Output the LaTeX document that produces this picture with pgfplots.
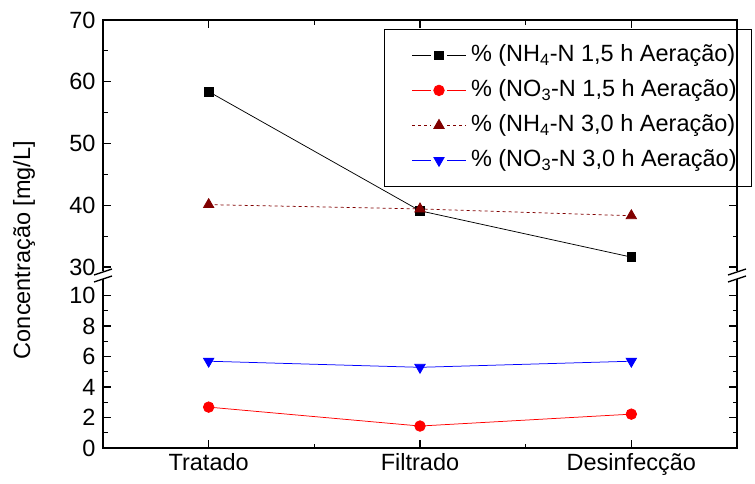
\documentclass[border=0pt]{standalone}
\usepackage{fontspec}
\setmainfont{Liberation Sans}
\usepackage{pgfplots}
\pgfplotsset{compat=1.18}

\definecolor{nhdark}{RGB}{128,0,0}
\newcommand\fs{\fontsize{23.5}{28}\selectfont}

% common frame for both halves of the broken axis
\pgfplotsset{
  halfaxis/.style={
    scale only axis, width=634pt,
    xmin=-0.5, xmax=2.5,
    xtick={0,1,2}, minor xtick={0.5,1.5},
    tick align=inside,
    major tick length=8pt, minor tick length=4.5pt,
    every tick/.style={line width=1.1pt, black},
    axis line style={draw=none},
    clip=false,
    /pgf/number format/assume math mode=true,
    tick label style={font=\fs},
    yticklabel style={xshift=-4pt},
    xticklabel style={yshift=-2pt},
  },
  nh15/.style={black, line width=0.75pt, mark=square*, mark size=4.3pt, mark options={solid}},
  no15/.style={red, line width=0.75pt, mark=*, mark size=5.3pt, mark options={solid}},
  nh30/.style={nhdark, line width=0.75pt, dash pattern=on 3pt off 3pt, mark=triangle*, mark size=6pt, mark options={solid}},
  no30/.style={blue, line width=0.75pt, mark=triangle*, mark size=6pt, mark options={solid, rotate=180}},
}

\begin{document}
\begin{tikzpicture}[font=\fs]
\useasboundingbox (0,0) rectangle (755pt,483pt);

% lower part: nitrate
\begin{axis}[halfaxis, name=lo,
  at={(103pt,35pt)}, anchor=south west, height=169pt,
  ymin=0, ymax=11.08,
  ytick={0,2,...,10}, minor ytick={1,3,...,9},
  xtick pos=left,
  xticklabels={Tratado,Filtrado,Desinfecção},
]
\addplot[no15] coordinates {(0,2.68) (1,1.44) (2,2.22)};
\addplot[no30] coordinates {(0,5.69) (1,5.29) (2,5.69)};
\end{axis}

% upper part: ammonium
\begin{axis}[halfaxis, name=up,
  at={(103pt,212pt)}, anchor=south west, height=251pt,
  ymin=29.35, ymax=70,
  ytick={30,40,...,70}, minor ytick={35,45,55,65},
  xtick pos=right, xticklabels={},
  legend cell align=left,
  legend image code/.code={
    \path[draw=none, fill=none] (-15pt,0pt) -- (57pt,0pt);
    \draw[#1, mark=none] (0pt,0pt) -- (19pt,0pt) (35pt,0pt) -- (54pt,0pt);
    \draw[#1, solid] plot coordinates {(27pt,0pt)};
  },
  legend style={
    at={(1.0237,0.9641)}, anchor=north east,
    draw=black, line width=0.8pt, fill=white,
    font=\fs, inner xsep=13pt, inner ysep=13pt,
    row sep=9pt,
    nodes={inner sep=2pt, text height=17pt, text depth=5pt},
  },
]
\addplot[nh15] coordinates {(0,58.4) (1,39.1) (2,31.6)};
\addlegendentry{\% (NH\textsubscript{4}-N 1,5 h Aeração)}
\addlegendimage{no15}
\addlegendentry{\% (NO\textsubscript{3}-N 1,5 h Aeração)}
\addplot[nh30] coordinates {(0,40.1) (1,39.4) (2,38.3)};
\addlegendentry{\% (NH\textsubscript{4}-N 3,0 h Aeração)}
\addlegendimage{no30}
\addlegendentry{\% (NO\textsubscript{3}-N 3,0 h Aeração)}
\end{axis}

% frame lines of both halves
\draw[line width=1.5pt] (lo.north west) -- (lo.south west) -- (lo.south east) -- (lo.north east);
\draw[line width=1.5pt] (up.south west) -- (up.north west) -- (up.north east) -- (up.south east);

% break marks on both vertical axes
\foreach \x in {103pt,737pt}{
  \draw[line width=1.4pt] ([xshift=-9pt]\x,208pt) -- ([xshift=9pt]\x,214pt);
  \draw[line width=1.4pt] ([xshift=-9pt]\x,201pt) -- ([xshift=9pt]\x,207pt);
}

\node[rotate=90] at (24pt,233pt) {Concentração [mg/L]};
\end{tikzpicture}
\end{document}
